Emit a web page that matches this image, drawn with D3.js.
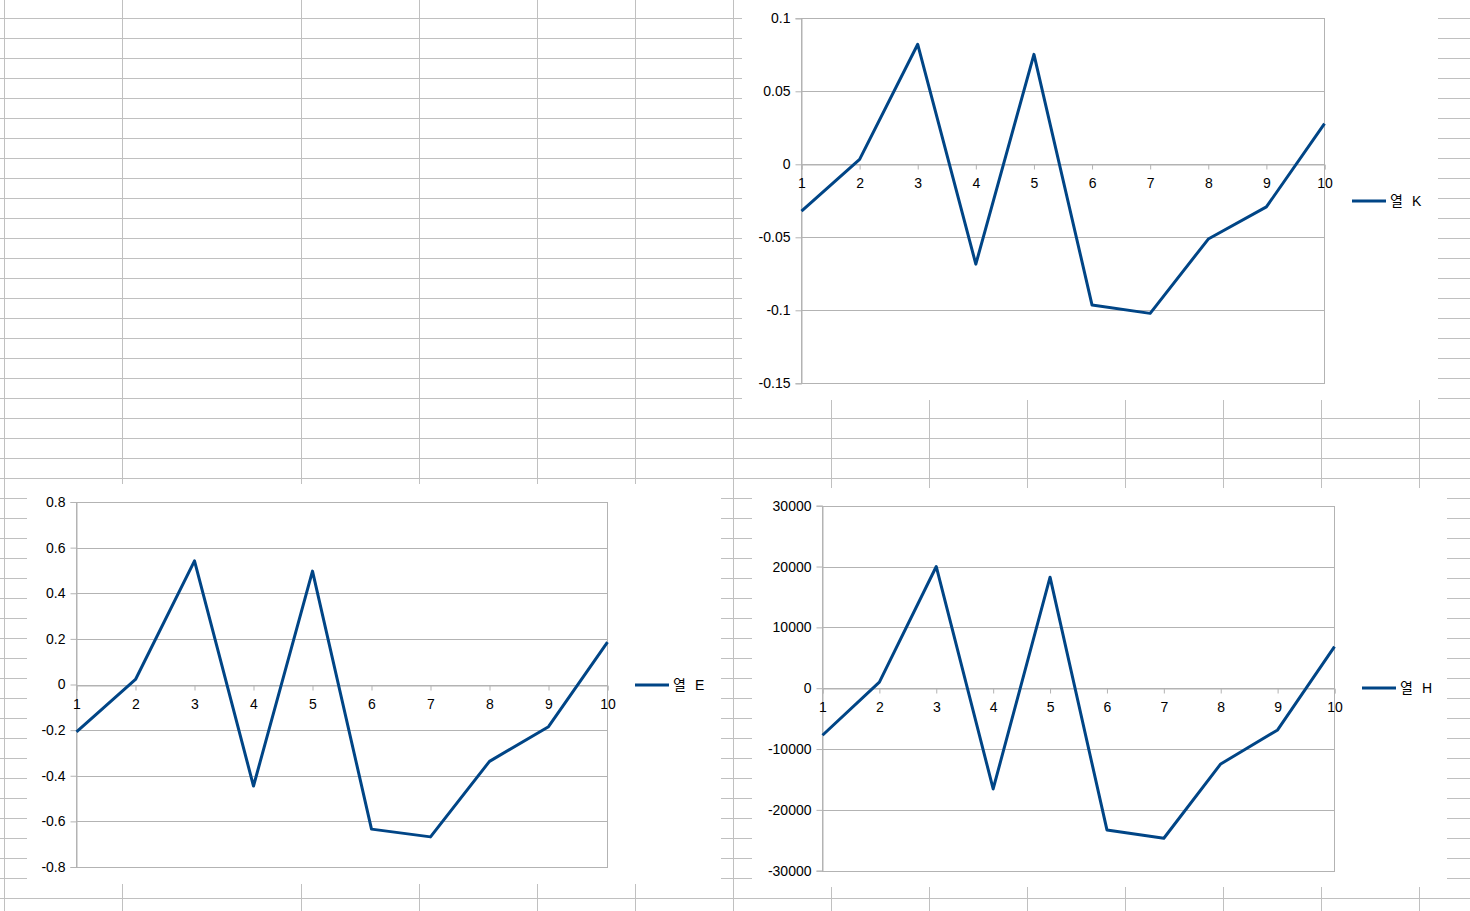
<!DOCTYPE html>
<html>
<head>
<meta charset="utf-8">
<script src="https://cdn.jsdelivr.net/npm/d3@7"></script>
<style>
  html, body { margin: 0; padding: 0; background: #ffffff; }
  svg { display: block; }
  text { font-family: "Liberation Sans", "Noto Sans CJK KR", sans-serif; font-size: 14px; fill: #000; }
</style>
</head>
<body>
<svg id="sheet" width="1470" height="911"></svg>
<script>
// ---------- data ----------
const categories = [1, 2, 3, 4, 5, 6, 7, 8, 9, 10];
const seriesK = [-0.032, 0.0034, 0.0822, -0.0684, 0.0753, -0.0964, -0.1021, -0.0512, -0.0292, 0.0279];
const seriesE = [-0.208, 0.022, 0.542, -0.445, 0.497, -0.634, -0.668, -0.337, -0.185, 0.186];
const seriesH = [-7730, 990, 20000, -16560, 18250, -23300, -24670, -12450, -6860, 6840];
const ticksK = [0.1, 0.05, 0, -0.05, -0.1, -0.15];
const ticksE = [0.8, 0.6, 0.4, 0.2, 0, -0.2, -0.4, -0.6, -0.8];
const ticksH = [30000, 20000, 10000, 0, -10000, -20000, -30000];
const legendLabel = "열";
const legendCols = ["K", "E", "H"];

// ---------- layout (positions/styles) ----------
const W = 1470, H = 911;
const gridColor = "#c0c0c0";
const lineColor = "#004586";
const plotGray = "#b3b3b3";
const colLines = [4, 122, 301, 419, 537, 635, 733, 831, 929, 1027, 1125, 1223, 1321, 1419];

const charts = [
  { series: seriesK, ticks: ticksK, col: legendCols[0],
    frame: { x: 742, y: 0, w: 696, h: 400 },
    plot: { x0: 801.5, x1: 1324.5, y0: 18.3, y1: 383.3 },
    legend: { x: 1352, y: 201 } },
  { series: seriesE, ticks: ticksE, col: legendCols[1],
    frame: { x: 27, y: 484, w: 694, h: 400 },
    plot: { x0: 76.5, x1: 607.5, y0: 502, y1: 867 },
    legend: { x: 635, y: 685 } },
  { series: seriesH, ticks: ticksH, col: legendCols[2],
    frame: { x: 752, y: 488, w: 695, h: 399 },
    plot: { x0: 822.5, x1: 1334.5, y0: 505.7, y1: 870.7 },
    legend: { x: 1362, y: 688 } }
];

const svg = d3.select("#sheet");
svg.append("rect").attr("width", W).attr("height", H).attr("fill", "#fff");

// spreadsheet grid
const rows = d3.range(18.5, H, 20);
svg.append("g").selectAll("line").data(rows).join("line")
  .attr("x1", 0).attr("x2", W).attr("y1", d => d).attr("y2", d => d)
  .attr("stroke", gridColor).attr("stroke-width", 1);
svg.append("g").selectAll("line").data(colLines).join("line")
  .attr("x1", d => d + 0.5).attr("x2", d => d + 0.5).attr("y1", 0).attr("y2", H)
  .attr("stroke", gridColor).attr("stroke-width", 1);

charts.forEach(c => {
  const g = svg.append("g");
  g.append("rect").attr("x", c.frame.x).attr("y", c.frame.y)
    .attr("width", c.frame.w).attr("height", c.frame.h).attr("fill", "#fff");

  const ext = d3.extent(c.ticks);
  const x = d3.scaleLinear().domain(d3.extent(categories)).range([c.plot.x0, c.plot.x1]);
  const y = d3.scaleLinear().domain(ext).range([c.plot.y1, c.plot.y0]);

  // horizontal gridlines
  g.append("g").selectAll("line").data(c.ticks).join("line")
    .attr("x1", c.plot.x0).attr("x2", c.plot.x1)
    .attr("y1", d => Math.round(y(d)) + 0.5).attr("y2", d => Math.round(y(d)) + 0.5)
    .attr("stroke", plotGray);

  // plot border
  g.append("rect")
    .attr("x", c.plot.x0).attr("y", Math.round(y(ext[1])) + 0.5)
    .attr("width", c.plot.x1 - c.plot.x0)
    .attr("height", Math.round(y(ext[0])) - Math.round(y(ext[1])))
    .attr("fill", "none").attr("stroke", plotGray);

  // y axis
  const yAxis = d3.axisLeft(y).tickValues(c.ticks).tickSize(6).tickPadding(5)
    .tickFormat(d => String(d));
  const ya = g.append("g").attr("transform", `translate(${c.plot.x0},0)`).call(yAxis);
  ya.select(".domain").attr("stroke", plotGray);
  ya.selectAll(".tick line").attr("stroke", plotGray);
  ya.selectAll(".tick text").attr("font-family", null).attr("fill", "#000");

  // x axis on zero line
  const y0 = Math.round(y(0)) + 0.5;
  const xAxis = d3.axisBottom(x).tickValues(categories).tickSize(5).tickPadding(9)
    .tickFormat(d => String(d));
  const xa = g.append("g").attr("transform", `translate(0,${y0})`).call(xAxis);
  xa.select(".domain").attr("stroke", plotGray);
  xa.selectAll(".tick line").attr("stroke", plotGray);
  xa.selectAll(".tick text").attr("font-family", null).attr("fill", "#000");

  // series line
  const line = d3.line().x((d, i) => x(categories[i])).y(d => y(d));
  g.append("path").datum(c.series).attr("d", line)
    .attr("fill", "none").attr("stroke", lineColor).attr("stroke-width", 3)
    .attr("stroke-linejoin", "round");

  // legend
  const lg = g.append("g").attr("transform", `translate(${c.legend.x},${c.legend.y})`);
  lg.append("line").attr("x1", 0).attr("x2", 34).attr("y1", 0).attr("y2", 0)
    .attr("stroke", lineColor).attr("stroke-width", 3);
  const t = lg.append("text").attr("x", 38).attr("y", 0).attr("dy", "0.35em");
  t.append("tspan").text(legendLabel);
  t.append("tspan").attr("dx", 9).text(c.col);
});
</script>
</body>
</html>
